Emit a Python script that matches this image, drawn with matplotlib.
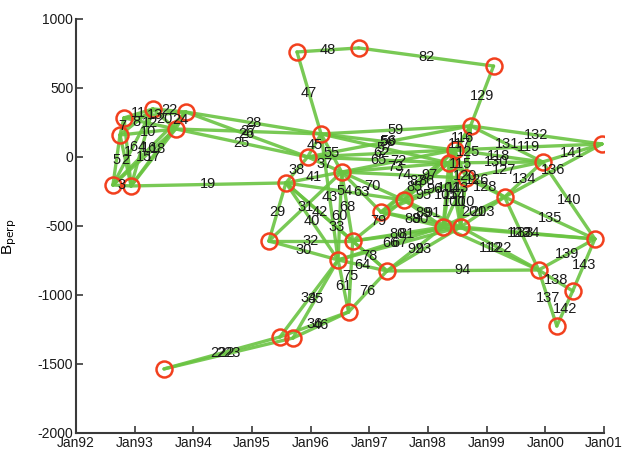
import matplotlib
matplotlib.use("Agg")
import matplotlib.pyplot as plt
import matplotlib.dates as mdates
import pandas as pd

plt.rcParams["font.family"] = ["Liberation Sans", "DejaVu Sans"]
plt.rcParams["axes.unicode_minus"] = False

# acquisitions: date and perpendicular baseline [m]
node_dates = [
    "1992-08-18", "1992-12-09", "1992-10-01", "1992-10-26", "1993-04-23",
    "1993-11-14", "1993-09-12", "1995-10-08", "1996-10-26", "1999-02-13",
    "1996-03-06", "1995-12-13", "1995-07-31", "1996-07-12", "1998-09-23",
    "1998-06-17", "1998-05-11", "1998-08-25", "1997-08-03", "1997-03-14",
    "1998-04-05", "1998-07-23", "2000-12-19", "1999-12-16", "1999-04-23",
    "2000-11-05", "1999-11-21", "2000-06-20", "2000-03-13", "1995-04-16",
    "1996-09-19", "1996-06-20", "1997-04-20", "1996-08-24", "1995-06-24",
    "1995-09-13", "1993-07-02",
]
node_bperp = [
    -203, -210, 159, 283, 348,
    326, 203, 761, 790, 659,
    167, 0, -188, -109, 225,
    51, -43, -152, -312, -399,
    -507, -507, 94, -36, -290,
    -594, -819, -971, -1225, -609,
    -609, -746, -826, -1123, -1304,
    -1312, -1536,
]

# interferometric pairs: first node, second node, pair number
edge_from = [
    0, 3, 2, 4, 4, 5, 5, 6, 6, 2, 2, 2, 2, 3, 3, 3, 4, 4, 5,
    1, 5, 6, 5, 6,
    7, 8, 7, 9, 10, 10, 10, 11, 11, 12, 12, 29, 29, 29, 12, 12, 12,
    13, 13, 10, 12, 13, 13, 13, 13, 13, 11, 10, 10, 11, 11,
    19, 18, 18, 19, 18, 19, 18, 30, 30, 31, 31, 32, 32, 19, 18, 19, 18,
    30, 31, 30, 31, 33, 34, 35, 34, 35, 36, 36, 32,
    20, 20, 21, 21, 20, 21, 20, 21, 20, 21, 20, 21,
    14, 14, 14, 15, 14, 14, 14, 15, 15, 16, 17, 16, 17,
    24, 24, 23, 23, 24, 24, 26, 25, 26, 26, 27,
]
edge_to = [
    1, 1, 1, 0, 1, 0, 1, 1, 0, 0, 6, 3, 4, 4, 6, 5, 5, 6, 6,
    12, 10, 10, 11, 11,
    8, 9, 10, 14, 14, 11, 13, 13, 12, 13, 29, 13, 30, 31, 30, 31, 32,
    31, 30, 31, 18, 19, 18, 15, 16, 17, 14, 15, 16, 15, 16,
    15, 15, 16, 16, 17, 17, 30, 21, 20, 20, 21, 20, 21, 20, 20, 21, 21,
    32, 32, 33, 33, 32, 31, 31, 33, 33, 34, 35, 26,
    15, 16, 16, 15, 17, 17, 24, 24, 26, 26, 25, 25,
    15, 16, 17, 17, 21, 23, 22, 22, 23, 23, 23, 24, 24,
    22, 23, 22, 25, 25, 26, 25, 27, 27, 28, 28,
]
edge_label = [
    3, 1, 2, 6, 4, 16, 18, 17, 15, 5, 10, 7, 8, 11, 12, 13, 22, 20, 24,
    19, 28, 27, 26, 25,
    48, 82, 47, 129, 59, 45, 55, 37, 38, 41, 29, 31, 32, 30, 42, 40, 33,
    60, 68, 43, 54, 63, 70, 72, 73, 74, 56, 58, 57, 62, 65,
    87, 97, 86, 85, 96, 95, 79, 81, 80, 66, 67, 92, 93, 88, 89, 90, 91,
    78, 64, 75, 61, 76, 34, 35, 36, 46, 222, 223, 94,
    104, 105, 114, 113, 100, 110, 201, 203, 112, 122, 123, 124,
    116, 117, 125, 115, 120, 131, 132, 119, 118, 130, 127, 126, 128,
    136, 134, 141, 140, 135, 133, 139, 143, 138, 137, 142,
]

dates = pd.to_datetime(node_dates)
xnum = mdates.date2num(dates)

fig = plt.figure(figsize=(6.22, 4.55), dpi=100)
ax = fig.add_axes([0.1222, 0.0484, 0.8489, 0.9099])

line_color = "#6ac442"
for a, b, lab in zip(edge_from, edge_to, edge_label):
    ax.plot([xnum[a], xnum[b]], [node_bperp[a], node_bperp[b]],
            color=line_color, lw=2.4, alpha=0.9, zorder=1,
            solid_capstyle="round")
    ax.text((xnum[a] + xnum[b]) / 2, (node_bperp[a] + node_bperp[b]) / 2,
            str(lab), fontsize=10.5, ha="center", va="center",
            color="#1a1a1a", zorder=4)

ax.plot(xnum, node_bperp, linestyle="none", marker="o", ms=11.5,
        mfc="none", mec="#f2401e", mew=1.8, zorder=3)

ax.set_xlim(mdates.date2num(pd.Timestamp("1992-01-01")),
            mdates.date2num(pd.Timestamp("2001-01-01")))
ax.set_ylim(-2000, 1000)
ax.xaxis.set_major_locator(mdates.YearLocator())
ax.xaxis.set_major_formatter(mdates.DateFormatter("%b%y"))
ax.set_yticks([-2000, -1500, -1000, -500, 0, 500, 1000])

for side in ("top", "right"):
    ax.spines[side].set_visible(False)
for side in ("left", "bottom"):
    ax.spines[side].set_color("#3a3a3a")
    ax.spines[side].set_linewidth(1.5)
ax.tick_params(direction="in", length=5, width=1.2, color="#3a3a3a",
               labelsize=10, labelcolor="#1a1a1a", pad=2)

ax.set_ylabel(r"B$_{\mathrm{perp}}$", fontsize=11)
ax.yaxis.set_label_coords(-0.108, 0.473)

fig.savefig("out.png", dpi=100)
